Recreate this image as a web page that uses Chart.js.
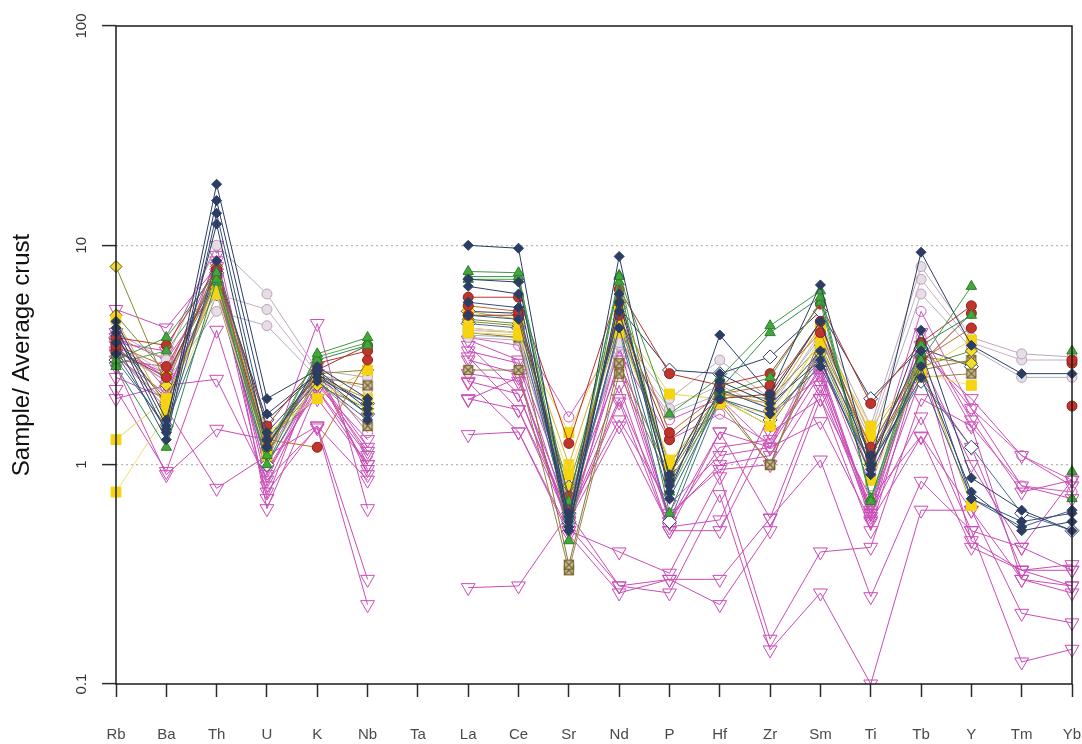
<!DOCTYPE html>
<html>
<head>
<meta charset="utf-8">
<script src="https://cdn.jsdelivr.net/npm/chart.js@4/dist/chart.umd.min.js"></script>
<style>
html,body{margin:0;padding:0;background:#fff;}
#c{display:block;}
</style>
</head>
<body>
<canvas id="c" width="1082" height="744"></canvas>
<script>
// ---- categories and tick labels ----
const categories = ['Rb','Ba','Th','U','K','Nb','Ta','La','Ce','Sr','Nd','P','Hf','Zr','Sm','Ti','Tb','Y','Tm','Yb'];
const yTickValues = [0.1, 1, 10, 100];
const yTitle = 'Sample/ Average crust';

// ---- series (values normalised to average crust) ----
// navy filled diamonds
const navy1 = [4.2,1.5,19,2.0,2.7,1.8,null,10,9.7,0.55,8.9,0.85,3.9,2.1,6.6,1.0,9.3,3.5,2.6,2.6];
const navy2 = [4.0,1.4,16,1.7,2.6,1.7,null,6.5,6.0,0.5,6.0,0.75,2.6,2.0,4.5,0.95,4.1,0.87,0.62,0.5];
const navy3 = [3.6,1.3,14,1.4,2.5,1.9,null,5.5,5.2,0.6,5.0,0.8,2.2,1.8,3.3,1.1,3.3,0.7,0.55,0.6];
const navy4 = [4.5,1.6,12.5,1.2,2.8,2.0,null,7.0,6.8,0.52,5.5,0.9,2.4,1.9,3.0,0.9,2.8,0.75,0.5,0.55];
const navy5 = [3.2,1.45,8.5,1.3,2.4,1.6,null,4.8,4.6,0.58,4.2,0.7,2.0,1.7,2.8,1.0,2.5,0.7,0.52,0.62];
// green filled triangles
const green1 = [3.0,3.8,7.5,1.1,3.2,3.8,null,7.6,7.5,0.45,7.2,1.7,2.5,4.3,6.2,0.68,3.0,6.5,null,3.3];
const green2 = [2.8,1.2,7.0,1.0,3.0,3.5,null,7.2,7.2,0.68,6.8,0.6,2.2,4.0,5.8,0.7,3.5,4.8,null,0.93];
const green3 = [2.9,3.3,6.8,1.2,3.1,3.6,null,7.0,7.0,0.58,7.3,0.75,2.1,2.5,5.5,0.7,3.2,null,null,0.7];
// red filled circles
const red1 = [3.8,3.5,7.8,1.5,2.9,3.3,null,5.8,5.8,1.25,6.3,2.6,2.3,2.6,5.4,1.9,3.6,5.3,null,3.0];
const red2 = [3.5,2.8,7.2,1.3,1.2,3.0,null,5.3,5.0,0.62,5.5,1.4,2.1,2.3,4.0,1.2,3.0,4.2,null,1.85];
const red3 = [3.3,2.5,7.5,1.2,2.7,3.5,null,4.8,4.8,0.72,4.8,1.3,2.0,2.1,4.5,1.1,2.9,4.9,null,2.9];
// yellow filled squares
const yellowSq1 = [1.3,2.0,6.5,1.4,2.0,2.7,null,4.0,3.9,1.4,4.5,2.1,2.0,1.5,3.8,1.5,2.7,3.7,null,null];
const yellowSq2 = [0.75,1.7,6.0,1.1,2.4,1.8,null,4.2,4.0,0.9,4.0,1.05,1.9,1.7,3.6,0.85,2.6,2.3,null,null];
const yellowSq3 = [4.6,1.8,7.0,1.2,2.5,2.0,null,5.0,4.6,1.0,5.0,1.0,2.1,1.9,4.3,1.35,2.9,0.65,null,null];
// yellow diamonds
const yellowDia1 = [8.0,2.3,8.0,1.3,2.6,2.7,null,4.5,4.3,0.8,4.6,1.0,2.1,2.0,3.5,1.2,3.1,2.9,null,null];
const yellowDia2 = [4.8,2.6,6.8,1.25,2.3,1.8,null,4.6,4.4,0.72,4.4,0.95,2.0,1.5,3.2,1.0,2.8,3.3,null,null];
// crossed squares
const xSq1 = [3.5,2.0,7.0,1.2,2.5,2.3,null,4.0,3.8,0.35,2.9,0.9,2.0,1.0,3.8,1.1,2.7,3.0,null,null];
const xSq2 = [3.2,1.9,6.5,1.1,2.4,1.5,null,2.7,2.7,0.33,2.6,0.85,1.9,1.0,3.5,1.0,2.5,2.6,null,null];
// open diamonds
const openDia1 = [3.8,1.9,7.5,1.6,2.6,1.9,null,5.0,4.9,0.6,5.2,2.7,2.6,3.1,5.0,2.0,3.4,2.8,null,null];
const openDia2 = [3.0,1.5,6.0,1.0,2.5,1.7,null,4.4,4.2,0.55,4.1,0.55,2.0,1.6,3.0,1.0,2.4,1.2,0.6,0.5];
// lavender circles
const lav1 = [4.0,3.0,10,6.0,2.7,2.5,null,3.8,3.7,0.6,4.0,2.0,3.0,2.0,4.5,1.5,8.0,3.8,3.2,3.1];
const lav2 = [3.6,2.6,6.0,5.1,2.6,2.2,null,4.1,4.0,0.65,3.6,1.8,2.3,1.8,4.0,1.4,7.0,3.6,3.0,3.0];
const lav3 = [3.3,2.4,5.0,4.3,2.5,2.0,null,3.9,3.8,0.7,3.5,1.7,2.1,1.9,3.8,1.3,6.0,3.4,2.5,2.5];
// pink open circles
const pinkC1 = [3.4,2.4,8.0,1.1,2.7,1.4,null,4.2,4.0,1.65,3.8,1.6,2.0,1.2,3.5,0.9,5.0,1.8,1.1,0.85];
const pinkC2 = [3.1,2.1,7.0,0.9,2.5,1.1,null,3.8,3.5,0.7,3.3,1.3,1.7,1.25,3.0,0.8,3.8,1.5,0.8,0.75];
// magenta open inverted triangles
const mag1 = [5.1,4.2,8.0,1.0,4.4,0.63,null,3.5,2.1,0.55,1.93,0.5,1.41,0.57,2.2,0.6,1.65,0.5,0.42,0.85];
const mag2 = [2.2,0.93,4.1,0.75,1.5,0.3,null,3.1,1.78,0.6,1.6,0.66,1.1,1.2,1.57,0.55,1.34,0.42,0.33,0.33];
const mag3 = [2.0,2.3,2.45,0.85,1.47,0.23,null,2.37,1.41,0.5,0.4,0.32,0.88,0.16,0.4,0.42,2.0,1.5,0.3,0.28];
const mag4 = [2.8,0.9,1.45,1.3,2.0,1.0,null,1.98,2.5,0.52,0.28,0.26,0.73,0.143,0.26,0.1,0.62,0.62,0.21,0.19];
const mag5 = [3.2,1.8,0.78,1.1,1.5,0.85,null,1.37,1.41,0.48,0.26,0.3,0.30,0.57,1.05,0.25,0.84,0.5,0.126,0.144];
const mag6 = [2.5,2.0,9.0,0.63,2.2,1.1,null,0.275,0.28,0.6,0.28,0.3,0.23,0.5,2.0,0.5,3.0,1.0,0.42,0.33];
const mag7 = [3.0,2.8,7.0,0.7,2.8,0.9,null,2.0,1.78,0.55,1.5,0.52,0.56,1.7,2.5,0.56,3.5,1.8,0.8,0.7];
const mag8 = [3.5,2.5,7.5,0.8,2.5,1.2,null,3.0,2.6,0.5,3.5,0.55,1.41,1.2,2.8,0.6,4.0,1.6,0.75,0.85];
const mag9 = [3.8,3.0,6.5,0.9,2.3,1.3,null,2.4,2.1,0.58,2.0,0.6,0.95,1.0,2.3,0.65,3.2,2.0,1.1,0.8];
const mag10 = [4.0,2.2,6.2,1.2,2.6,0.95,null,3.7,3.0,0.7,2.8,0.55,1.2,1.3,2.7,0.58,2.5,1.2,0.33,0.35];
const mag11 = [3.3,2.6,8.5,1.0,2.4,1.15,null,2.6,2.4,0.62,2.3,0.5,0.5,1.4,2.0,0.7,1.35,0.62,0.3,0.26];
const mag12 = [3.6,3.3,10,0.95,2.2,1.0,null,3.3,2.9,0.56,3.0,0.58,1.0,1.1,2.6,0.62,3.0,0.45,0.33,0.28];

// ---- marker style helpers ----
function crossedSquare(){
  const c = document.createElement('canvas');
  c.width = 12; c.height = 12;
  const g = c.getContext('2d');
  g.fillStyle = '#c9c2a8'; g.fillRect(1,1,10,10);
  g.strokeStyle = '#7a6428'; g.lineWidth = 1.3;
  g.strokeRect(1.5,1.5,9,9);
  g.beginPath(); g.moveTo(2,2); g.lineTo(10,10); g.moveTo(10,2); g.lineTo(2,10); g.stroke();
  return c;
}
const xSqImg = crossedSquare();

const styles = {
  navy:   {line:'#2b3d63', fill:'#2b3d63', border:'#2b3d63', shape:'rectRot', r:5},
  green:  {line:'#3f9a3a', fill:'#43a83c', border:'#2f7d2b', shape:'triangle', r:6},
  red:    {line:'#b8322a', fill:'#c0342b', border:'#8e231d', shape:'circle', r:5},
  yellowSq:{line:'#e0c020', fill:'#f6d40f', border:'#f6d40f', shape:'rect', r:7},
  yellowDia:{line:'#8a8a30', fill:'#f4dc2a', border:'#5c5a20', shape:'rectRot', r:6},
  xSq:    {line:'#8a7435', fill:'#c9c2a8', border:'#7a6428', shape:xSqImg, r:6},
  openDia:{line:'#2b3d63', fill:'#ffffff', border:'#2b3d63', shape:'rectRot', r:7},
  lav:    {line:'#b9aab9', fill:'#e6dde6', border:'#b9a3b9', shape:'circle', r:5},
  pinkC:  {line:'#cf5bbf', fill:'rgba(255,255,255,0)', border:'#cf5bbf', shape:'circle', r:5},
  mag:    {line:'#c94bb6', fill:'rgba(255,255,255,0)', border:'#c94bb6', shape:'triangle', r:8, rot:180}
};

function ds(data, key, lineColor){
  const s = styles[key];
  return {
    data: data,
    borderColor: lineColor || s.line,
    backgroundColor: s.fill,
    borderWidth: 1,
    pointStyle: s.shape,
    pointRadius: s.r,
    pointRotation: s.rot || 0,
    pointBackgroundColor: s.fill,
    pointBorderColor: s.border,
    pointBorderWidth: 1,
    tension: 0,
    spanGaps: false,
    fill: false
  };
}

const datasets = [
  ds(navy1,'navy'), ds(navy2,'navy'), ds(navy3,'navy','#34507a'), ds(navy4,'navy'), ds(navy5,'navy','#3a5a80'),
  ds(green1,'green'), ds(green2,'green','#2e8b57'), ds(green3,'green','#5aa048'),
  ds(red1,'red'), ds(red2,'red','#c56a2a'), ds(red3,'red','#8b3a1e'),
  ds(yellowSq1,'yellowSq','#e8d44a'), ds(yellowSq2,'yellowSq','#efe070'), ds(yellowSq3,'yellowSq','#d8a830'),
  ds(yellowDia1,'yellowDia'), ds(yellowDia2,'yellowDia','#6e8a3a'),
  ds(xSq1,'xSq'), ds(xSq2,'xSq','#9a8050'),
  ds(openDia1,'openDia'), ds(openDia2,'openDia','#4a6a90'),
  ds(lav1,'lav'), ds(lav2,'lav','#c8b0c0'), ds(lav3,'lav','#aab0c0'),
  ds(pinkC1,'pinkC'), ds(pinkC2,'pinkC'),
  ds(mag1,'mag'), ds(mag2,'mag'), ds(mag3,'mag'), ds(mag4,'mag'), ds(mag5,'mag'), ds(mag6,'mag'),
  ds(mag7,'mag'), ds(mag8,'mag'), ds(mag9,'mag'), ds(mag10,'mag'), ds(mag11,'mag'), ds(mag12,'mag')
];

const framePlugin = {
  id: 'frame',
  afterDatasetsDraw(chart){
    const a = chart.chartArea, g = chart.ctx;
    g.save();
    g.strokeStyle = '#1a1a1a'; g.lineWidth = 1.5;
    g.strokeRect(a.left, a.top, a.right - a.left, a.bottom - a.top);
    g.restore();
  }
};

new Chart(document.getElementById('c'), {
  type: 'line',
  data: { labels: categories, datasets: datasets },
  plugins: [framePlugin],
  options: {
    responsive: false,
    animation: false,
    devicePixelRatio: 1,
    layout: { padding: { top: 26, right: 10, left: 0, bottom: 0 } },
    plugins: { legend: { display: false }, tooltip: { enabled: false }, title: { display: false } },
    scales: {
      x: {
        type: 'category',
        offset: false,
        grid: { drawOnChartArea: false, drawTicks: true, tickLength: 13, tickColor: '#2a2a2a', tickWidth: 1.5 },
        border: { display: false },
        ticks: { autoSkip: false, maxRotation: 0, minRotation: 0, padding: 0,
                 color: '#4a4a4a', font: { family: 'Liberation Sans, Arial, sans-serif', size: 15, lineHeight: '76px' } },
        afterFit(scale){ scale.height = 60; }
      },
      y: {
        type: 'logarithmic',
        min: 0.1, max: 100,
        afterBuildTicks(scale){ scale.ticks = yTickValues.map(v => ({ value: v })); },
        grid: {
          drawOnChartArea: true,
          color: ctx => (ctx.tick && (ctx.tick.value === 1 || ctx.tick.value === 10)) ? '#b8b8b8' : 'rgba(0,0,0,0)',
          lineWidth: 1.2,
          tickLength: 14, tickColor: '#2a2a2a', tickWidth: 1.5
        },
        border: { display: false, dash: [2, 3] },
        ticks: {
          minRotation: 90, maxRotation: 90, crossAlign: 'center', padding: 8,
          color: '#333', font: { family: 'Liberation Sans, Arial, sans-serif', size: 15 },
          callback: v => String(v)
        },
        title: { display: true, text: yTitle, color: '#111',
                 font: { family: 'Liberation Sans, Arial, sans-serif', size: 24 }, padding: { top: 8, bottom: 0 } },
        afterFit(scale){ scale.width = 116; }
      }
    }
  }
});
</script>
</body>
</html>
